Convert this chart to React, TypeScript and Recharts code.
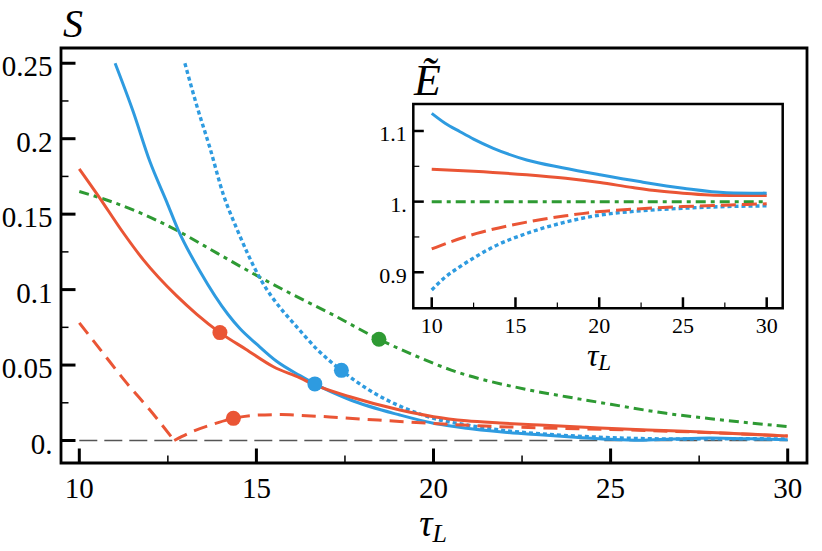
import React from "react";
import { ComposedChart, Line, Scatter, XAxis, YAxis, ReferenceArea } from "recharts";

const BLUE = "#2e9be0";
const RED = "#ea5535";
const GREEN = "#2e9a33";
const FONT = "'Liberation Serif', 'DejaVu Serif', serif";

// tick positions and labels
const mainXTicks = [10, 12.5, 15, 17.5, 20, 22.5, 25, 27.5, 30];
const mainXLabels = ["10", "", "15", "", "20", "", "25", "", "30"];
const mainYTicks = [0, 0.025, 0.05, 0.075, 0.1, 0.125, 0.15, 0.175, 0.2, 0.225, 0.25];
const mainYLabels = ["0.", "", "0.05", "", "0.1", "", "0.15", "", "0.2", "", "0.25"];
const insetXTicks = [10, 12.5, 15, 17.5, 20, 22.5, 25, 27.5, 30];
const insetXLabels = ["10", "", "15", "", "20", "", "25", "", "30"];
const insetYTicks = [0.9, 0.95, 1, 1.05, 1.1];
const insetYLabels = ["0.9", "", "1.", "", "1.1"];

// main panel: S vs tau_L
const blueSolid = [
  [11.01, 0.25], [11.52, 0.218], [11.99, 0.185], [12.47, 0.158], [12.79, 0.1396],
  [13.41, 0.112], [14.2, 0.0835], [14.54, 0.074], [15.0, 0.064], [15.57, 0.0525],
  [16.23, 0.043], [16.65, 0.0375], [17.64, 0.027], [19.05, 0.0169], [20.0, 0.0114],
  [20.93, 0.0081], [21.87, 0.0058], [23.0, 0.0038], [24.0, 0.0022], [25.0, 0.0008],
  [25.8, 0.0002], [26.8, 0.001], [27.8, 0.0016], [29.0, 0.0011], [30.0, 0.0005],
];
const blueDotted = [
  [12.98, 0.25], [13.31, 0.2224], [13.69, 0.1937], [14.07, 0.1627], [14.44, 0.1407],
  [15.1, 0.1076], [15.76, 0.0854], [16.04, 0.078], [16.7, 0.0607], [17.4, 0.0465],
  [18.11, 0.0345], [19.05, 0.0228], [20.0, 0.0147], [20.93, 0.0103], [21.87, 0.007],
  [23.0, 0.0045], [24.0, 0.003], [25.5, 0.0015], [27.0, 0.001], [28.5, 0.0012],
  [30.0, 0.001],
];
const redSolid = [
  [10.0, 0.18], [10.54, 0.162], [11.2, 0.139], [11.81, 0.1197], [12.75, 0.0958],
  [13.31, 0.0838], [13.97, 0.0715], [14.7, 0.0605], [15.48, 0.0489], [16.23, 0.0415],
  [16.65, 0.0368], [17.64, 0.029], [19.05, 0.0202], [20.0, 0.0158], [20.93, 0.0131],
  [21.87, 0.0116], [23.0, 0.0102], [24.7, 0.0083], [26.5, 0.0066], [28.0, 0.0052],
  [30.0, 0.003],
];
const redDashed = [
  [10.0, 0.078], [10.7, 0.057], [11.34, 0.038], [12.0, 0.02], [12.68, 0.0],
  [13.2, 0.006], [13.8, 0.011], [14.35, 0.0147], [15.0, 0.0168], [15.7, 0.0172],
  [16.23, 0.0167], [17.07, 0.0156], [18.0, 0.0142], [19.05, 0.0126], [20.0, 0.0113],
  [21.87, 0.0092], [23.0, 0.0084], [25.0, 0.0073], [27.5, 0.0055], [30.0, 0.003],
];
const greenDashDot = [
  [10.0, 0.165], [10.77, 0.1594], [11.5, 0.153], [12.79, 0.1388], [13.9, 0.124],
  [15.15, 0.1075], [16.0, 0.097], [17.08, 0.0843], [18.46, 0.0671], [19.5, 0.056],
  [20.5, 0.0467], [22.7, 0.0335], [23.75, 0.029], [25.0, 0.024], [26.57, 0.018],
  [28.0, 0.014], [30.0, 0.0092],
];
const zeroLine = [[10, 0], [30, 0]];
const redMarks = [[13.97, 0.0715], [14.35, 0.0147]];
const blueMarks = [[16.65, 0.0375], [17.4, 0.0465]];
const greenMarks = [[18.46, 0.0671]];

// inset: E~ vs tau_L
const blueSolidE = [
  [10, 1.125], [10.8, 1.111], [11.69, 1.099], [12.5, 1.0885], [13.68, 1.0755],
  [15.67, 1.059], [17.8, 1.048], [20.05, 1.038], [22.5, 1.028], [25.02, 1.019],
  [27.6, 1.0127], [30, 1.012],
];
const redSolidE = [
  [10, 1.046], [12.5, 1.043], [15.67, 1.038], [18, 1.033], [20.05, 1.027],
  [22, 1.02], [23.6, 1.015], [25, 1.012], [26.6, 1.0095], [28, 1.0088], [30, 1.0085],
];
const greenE = [[10, 1.0], [15, 1.0], [20, 1.0], [25, 1.0], [30, 1.0]];
const redDashedE = [
  [10, 0.933], [11, 0.942], [12.69, 0.955], [15.67, 0.971], [18, 0.98],
  [20.05, 0.986], [22.5, 0.99], [25, 0.993], [27.5, 0.995], [30, 0.997],
];
const blueDottedE = [
  [10, 0.875], [10.8, 0.893], [11.69, 0.908], [12.7, 0.923], [13.68, 0.936],
  [15.67, 0.955], [17.8, 0.97], [20.05, 0.981], [22.5, 0.987], [25, 0.9906],
  [27.5, 0.993], [30, 0.994],
];

const pts = (a: number[][]) => a.map(([x, y]) => ({ x, y }));

type TickOpts = {
  labels: string[];
  side: "bottom" | "left";
  major: number;
  minor: number;
  majorW: number;
  minorW: number;
  fontSize: number;
  gap: number;
  dy?: number;
};

const makeTick = (o: TickOpts) => (props: any) => {
  const { x, y, index } = props;
  const label = o.labels[index] || "";
  const isMajor = label !== "";
  const len = isMajor ? o.major : o.minor;
  const w = isMajor ? o.majorW : o.minorW;
  if (o.side === "bottom") {
    return (
      <g>
        <line x1={x} x2={x} y1={y} y2={y - len} stroke="#000" strokeWidth={w} />
        {isMajor && (
          <text x={x} y={y + o.gap} textAnchor="middle" fontSize={o.fontSize} fontFamily={FONT} fill="#000">
            {label}
          </text>
        )}
      </g>
    );
  }
  return (
    <g>
      <line x1={x} x2={x + len} y1={y} y2={y} stroke="#000" strokeWidth={w} />
      {isMajor && (
        <text x={x - o.gap} y={y + (o.dy || 0)} textAnchor="end" fontSize={o.fontSize} fontFamily={FONT} fill="#000">
          {label}
        </text>
      )}
    </g>
  );
};

const mainXTick = makeTick({ labels: mainXLabels, side: "bottom", major: 14.5, minor: 7.5, majorW: 3, minorW: 1.5, fontSize: 29, gap: 35 });
const mainYTick = makeTick({ labels: mainYLabels, side: "left", major: 14.5, minor: 7.5, majorW: 3, minorW: 1.5, fontSize: 29, gap: 8.5, dy: 13 });
const insetXTick = makeTick({ labels: insetXLabels, side: "bottom", major: 11, minor: 5.7, majorW: 2.5, minorW: 1.2, fontSize: 22, gap: 24.4 });
const insetYTick = makeTick({ labels: insetYLabels, side: "left", major: 10.5, minor: 6, majorW: 2.5, minorW: 1.2, fontSize: 22, gap: 6.6, dy: 10.5 });

const dotShape = (color: string) => (props: any) => (
  <circle cx={props.cx} cy={props.cy} r={7.5} fill={color} stroke="none" />
);

const MAIN_X: [number, number] = [9.483, 30.545];
const MAIN_Y: [number, number] = [-0.0149, 0.2601];
const INSET_X: [number, number] = [8.9, 30.955];
const INSET_Y: [number, number] = [0.849, 1.1382];

const line = (data: number[][], color: string, dash: string | undefined, width = 3, key?: string) => (
  <Line
    key={key}
    data={pts(data)}
    dataKey="y"
    type="monotone"
    stroke={color}
    strokeWidth={width}
    strokeDasharray={dash}
    dot={false}
    activeDot={false}
    isAnimationActive={false}
  />
);

const frame = (xd: [number, number], yd: [number, number], w: number) => (
  <ReferenceArea x1={xd[0]} x2={xd[1]} y1={yd[0]} y2={yd[1]} ifOverflow="visible"
    fill="none" fillOpacity={0} stroke="#000" strokeWidth={w} />
);

export default function App() {
  return (
    <div style={{ position: "absolute", left: 0, top: 0, width: 822, height: 551, background: "#fff" }}>
      <div style={{ position: "absolute", left: 0, top: 0 }}>
        <ComposedChart width={822} height={551} margin={{ top: 48, right: 15, left: 0, bottom: 0 }}>
          <XAxis dataKey="x" type="number" domain={MAIN_X} allowDataOverflow ticks={mainXTicks} interval={0}
            tick={mainXTick} tickLine={false} tickSize={0} tickMargin={0} height={88} axisLine={false} />
          <YAxis dataKey="y" type="number" domain={MAIN_Y} allowDataOverflow ticks={mainYTicks} interval={0}
            tick={mainYTick} tickLine={false} tickSize={0} tickMargin={0} width={61} axisLine={false} />
          {line(zeroLine, "#555", "18 7", 1.3, "zero")}
          {line(greenDashDot, GREEN, "10 5 4 5", 3, "g")}
          {line(blueDotted, BLUE, "4 3", 3.4, "bd")}
          {line(blueSolid, BLUE, undefined, 3, "bs")}
          {line(redDashed.slice(0, 5), RED, "14 8", 3, "rd1")}
          {line(redDashed.slice(4), RED, "14 8", 3, "rd2")}
          {line(redSolid, RED, undefined, 3, "rs")}
          <Scatter data={pts(blueMarks)} shape={dotShape(BLUE)} isAnimationActive={false} />
          <Scatter data={pts(redMarks)} shape={dotShape(RED)} isAnimationActive={false} />
          <Scatter data={pts(greenMarks)} shape={dotShape(GREEN)} isAnimationActive={false} />
          {frame(MAIN_X, MAIN_Y, 2.8)}
        </ComposedChart>
      </div>
      <div style={{ position: "absolute", left: 340, top: 50 }}>
        <ComposedChart width={460} height={340} margin={{ top: 54, right: 17.3, left: 0, bottom: 0 }}>
          <XAxis dataKey="x" type="number" domain={INSET_X} allowDataOverflow ticks={insetXTicks} interval={0}
            tick={insetXTick} tickLine={false} tickSize={0} tickMargin={0} height={81.7} axisLine={false} />
          <YAxis dataKey="y" type="number" domain={INSET_Y} allowDataOverflow ticks={insetYTicks} interval={0}
            tick={insetYTick} tickLine={false} tickSize={0} tickMargin={0} width={73.3} axisLine={false} />
          {line(greenE, GREEN, "10 5 4 5", 3, "g")}
          {line(blueDottedE, BLUE, "4 3", 3.4, "bd")}
          {line(redDashedE, RED, "15 6", 3, "rd")}
          {line(redSolidE, RED, undefined, 3, "rs")}
          {line(blueSolidE, BLUE, undefined, 3, "bs")}
          {frame(INSET_X, INSET_Y, 2.5)}
        </ComposedChart>
      </div>
      <svg width={822} height={551} style={{ position: "absolute", left: 0, top: 0, pointerEvents: "none" }}>
        <text x={63} y={36.7} fontSize={40} fontStyle="italic" fontFamily={FONT} fill="#000">S</text>
        <text x={414} y={95} fontSize={44} fontStyle="italic" fontFamily={FONT} fill="#000">Ẽ</text>
        <text x={433} y={536} textAnchor="middle" fontFamily={FONT} fill="#000">
          <tspan fontSize={37} fontStyle="italic">τ</tspan>
          <tspan fontSize={26} fontStyle="italic" dy={6}>L</tspan>
        </text>
        <text x={599} y={366} textAnchor="middle" fontFamily={FONT} fill="#000">
          <tspan fontSize={32} fontStyle="italic">τ</tspan>
          <tspan fontSize={23} fontStyle="italic" dy={4}>L</tspan>
        </text>
      </svg>
    </div>
  );
}
